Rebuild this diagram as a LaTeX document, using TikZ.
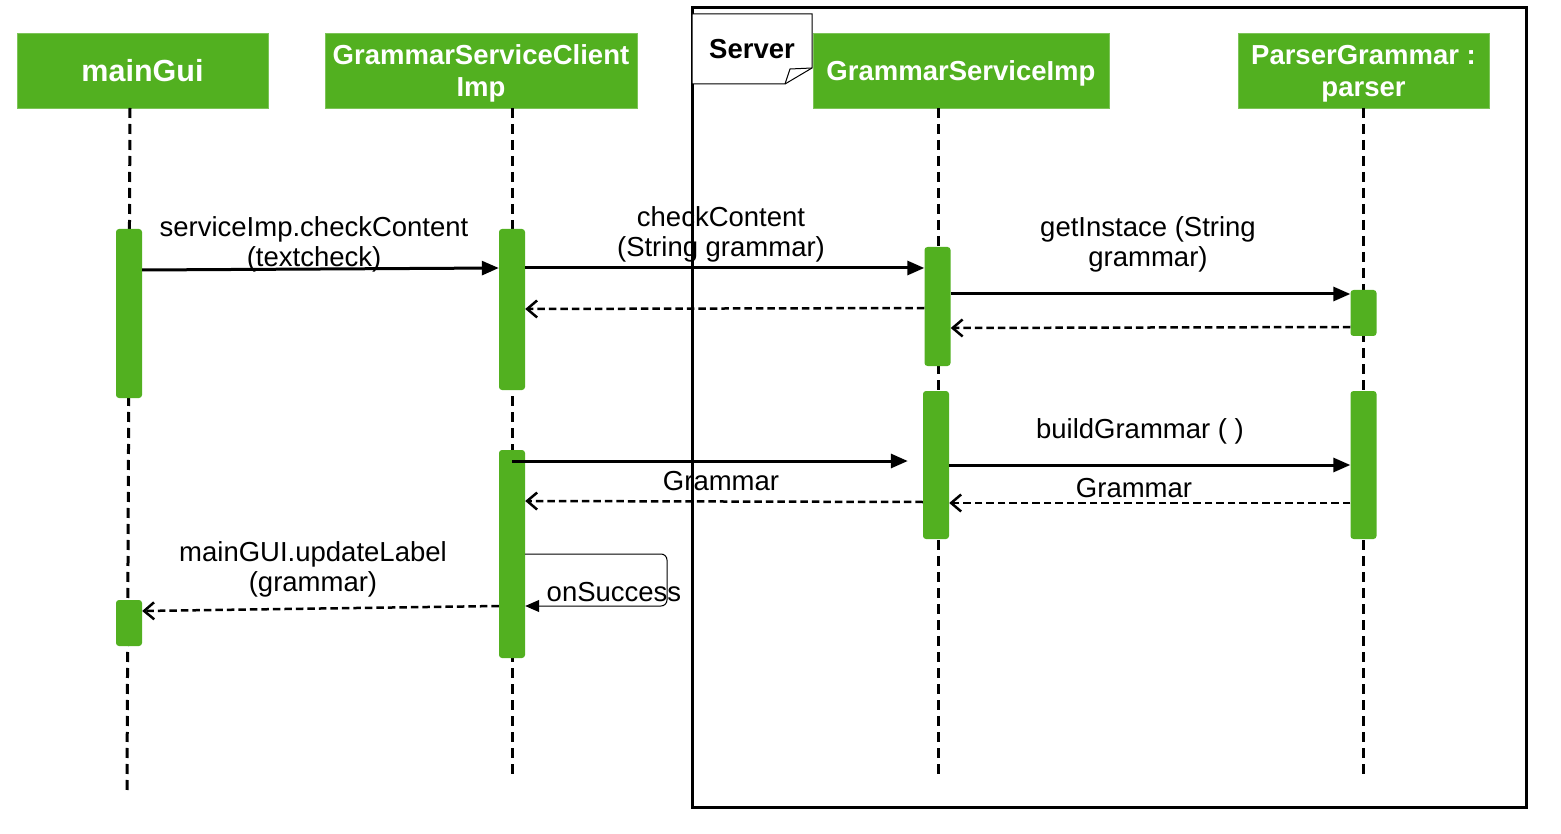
\documentclass[tikz,border=0pt]{standalone}
\usepackage{fontspec}
\setmainfont{Liberation Sans}
\usetikzlibrary{arrows.meta}
\definecolor{umlgreen}{HTML}{52B020}
\begin{document}
\begin{tikzpicture}[x=1pt,y=-1pt,
 head/.style={fill=umlgreen, draw=umlgreen!75!white, line width=0.8pt, text=white, font=\fontsize{27.5}{32}\selectfont\bfseries, align=center, inner sep=0pt, minimum height=75pt, text depth=0pt},
 act/.style={fill=umlgreen, rounded corners=3pt, minimum width=26pt, inner sep=0pt},
 life/.style={line width=3pt, dash pattern=on 10pt off 6pt},
 msg/.style={line width=3pt, -{Triangle[length=17pt,width=14pt]}},
 ret/.style={line width=2.5pt, dash pattern=on 7.5pt off 4pt, -{Straight Barb[length=10pt,width=17pt]}},
 selfmsg/.style={line width=1pt, rounded corners=6pt, -{Triangle[length=14pt,width=12pt]}},
 lbl/.style={font=\fontsize{27.5}{30}\selectfont, align=center, inner sep=0pt}
]
\useasboundingbox (0,0) rectangle (1561,834);

% Server frame
\node[draw, line width=3pt, minimum width=834pt, minimum height=799pt, inner sep=0pt] (frame) at (1109,407.5) {};
\draw[fill=white, line width=1pt] (692,14) -- (812,14) -- (812,68) -- (785,84) -- (692,84) -- cycle;
\draw[line width=1pt] (785,84) -- (790,69) -- (812,68);
\node[font=\fontsize{27.5}{32}\selectfont\bfseries, inner sep=0pt] (server) at (752,49) {Server};

% headers
\node[head, minimum width=251pt, font=\fontsize{30.5}{34}\selectfont\bfseries] (mainGui) at (142.5,70.5) {mainGui};
\node[head, minimum width=312pt] (client) at (481,70.5) {GrammarServiceClient\\Imp};
\node[head, minimum width=296pt] (service) at (961,70.5) {GrammarServiceImp};
\node[head, minimum width=251pt] (parser) at (1363.5,70.5) {ParserGrammar :\\parser};

% lifelines
\coordinate (mgTop) at (130,108); \coordinate (mgEnd) at (127,790);
\coordinate (clTop) at (512,108); \coordinate (clEnd) at (512,775);
\coordinate (svTop) at (938,108); \coordinate (svEnd) at (938,775);
\coordinate (pgTop) at (1363,108); \coordinate (pgEnd) at (1363,775);
\draw[life] (mgTop) -- (mgEnd);
\draw[life] (clTop) -- (clEnd);
\draw[life] (svTop) -- (svEnd);
\draw[life] (pgTop) -- (pgEnd);

% activations
\node[act, minimum height=169pt] (mg1) at (129,313.5) {};
\node[act, minimum height=46pt] (mg2) at (129,623) {};
\node[act, minimum height=161pt] (cl1) at (512,309.5) {};
\node[act, minimum height=208pt] (cl2) at (512,554) {};
\node[act, minimum height=119pt] (sv1) at (937.5,306.5) {};
\node[act, minimum height=148pt] (sv2) at (936,465) {};
\node[act, minimum height=46pt] (pg1) at (1363.5,313) {};
\node[act, minimum height=148pt] (pg2) at (1363.5,465) {};

% messages
\draw[msg] (mg1.east |- 0,270) -- (cl1.west |- 0,268);
\node[lbl] (l1) at (314,244.5) {serviceImp.checkContent\\(textcheck)};

\draw[msg] (cl1.east |- 0,268) -- (sv1.west |- 0,268);
\node[lbl] (l2) at (721,234.5) {checkContent\\(String grammar)};

\draw[ret] (sv1.west |- 0,308) -- (cl1.east |- 0,309);

\draw[msg] (sv1.east |- 0,294) -- (pg1.west |- 0,294);
\node[lbl] (l3) at (1148,244.5) {getInstace (String\\grammar)};

\draw[ret] (pg1.west |- 0,327) -- (sv1.east |- 0,328);

\draw[msg, shorten >=15pt] (cl2.center |- 0,461) -- (sv2.west |- 0,461);

\draw[ret] (sv2.west |- 0,502) -- (cl2.east |- 0,501);
\node[lbl, anchor=base] (l4) at (721,490) {Grammar};

\draw[msg] (sv2.east |- 0,465) -- (pg2.west |- 0,465);
\node[lbl, anchor=base] (l5) at (1140,438) {buildGrammar ( )};

\draw[ret] (pg2.west |- 0,503) -- (sv2.east |- 0,503);
\node[lbl, anchor=base] (l6) at (1134,497) {Grammar};

\draw[selfmsg] (cl2.east |- 0,554) -- (667,554) -- (667,606) -- (cl2.east |- 0,606);
\node[lbl, anchor=base] (l7) at (614,601) {onSuccess};

\draw[ret] (cl2.west |- 0,606) -- (mg2.east |- 0,611);
\node[lbl] (l8) at (313,569.5) {mainGUI.updateLabel\\(grammar)};
\end{tikzpicture}
\end{document}
